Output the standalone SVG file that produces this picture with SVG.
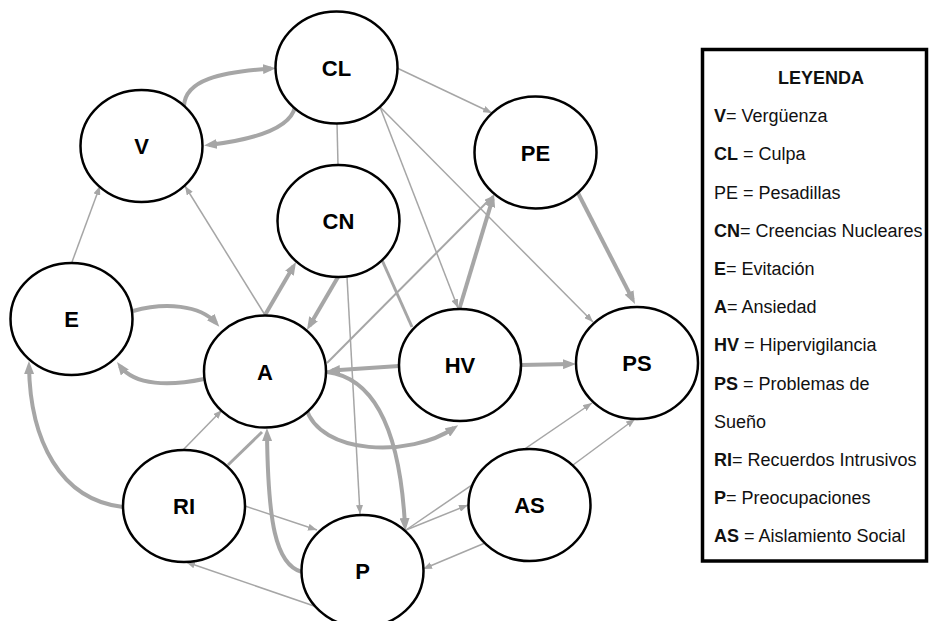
<svg xmlns="http://www.w3.org/2000/svg" width="929" height="621" viewBox="0 0 929 621">
  <defs>
    <style>
      .node ellipse { fill: #ffffff; stroke: #000000; stroke-width: 2.5; }
      .node text { font-family: "Liberation Sans", Arial, sans-serif; font-weight: bold; font-size: 22px; fill: #000000; text-anchor: middle; }
      .thin { fill: none; stroke: #a6a6a6; stroke-width: 1.5; }
      .mid { fill: none; stroke: #a6a6a6; stroke-width: 2; }
      .thick { fill: none; stroke: #a6a6a6; stroke-width: 4; }
      .legend rect { fill: #ffffff; stroke: #000000; stroke-width: 3.5; }
      .legend text { font-family: "Liberation Sans", Arial, sans-serif; font-size: 18px; fill: #111111; }
      .legend .b { font-weight: bold; }
    </style>
    <marker id="arrowThin" viewBox="0 0 9 7" refX="9" refY="3.5" markerWidth="9" markerHeight="7" markerUnits="userSpaceOnUse" orient="auto">
      <path d="M0,0 L9,3.5 L0,7 z" fill="#a6a6a6"/>
    </marker>
    <marker id="arrowThick" viewBox="0 0 13 10" refX="8" refY="5" markerWidth="13" markerHeight="10" markerUnits="userSpaceOnUse" orient="auto">
      <path d="M0,0 L13,5 L0,10 z" fill="#a6a6a6"/>
    </marker>
  </defs>

  <g id="connectors">
    <!-- thin links -->
    <line class="thin" x1="72" y1="262" x2="100" y2="186" marker-end="url(#arrowThin)"/>
    <line class="thin" x1="265" y1="315" x2="185" y2="186" marker-end="url(#arrowThin)"/>
    <line class="thin" x1="337" y1="123" x2="338" y2="165"/>
    <line class="thin" x1="347" y1="277" x2="360" y2="514" marker-end="url(#arrowThin)"/>
    <line class="thin" x1="397" y1="68" x2="492" y2="113" marker-end="url(#arrowThin)"/>
    <line class="thin" x1="380" y1="107" x2="593" y2="322" marker-end="url(#arrowThin)"/>
    <line class="thin" x1="380" y1="107" x2="458" y2="308" marker-end="url(#arrowThin)"/>
    <line class="thin" x1="183" y1="450" x2="222" y2="410" marker-end="url(#arrowThin)"/>
    <line class="thin" x1="245" y1="506" x2="317" y2="530" marker-end="url(#arrowThin)"/>
    <line class="thin" x1="317" y1="607" x2="186" y2="562" marker-end="url(#arrowThin)"/>
    <line class="thin" x1="406" y1="530" x2="468" y2="505" marker-end="url(#arrowThin)"/>
    <line class="thin" x1="406" y1="530" x2="592" y2="403" marker-end="url(#arrowThin)"/>
    <line class="thin" x1="573" y1="465" x2="635" y2="419" marker-end="url(#arrowThin)"/>
    <line class="thin" x1="485" y1="543" x2="423" y2="569" marker-end="url(#arrowThin)"/>
    <line class="mid" x1="327" y1="363" x2="493" y2="196" marker-end="url(#arrowThin)"/>

    <!-- thick links without heads -->
    <line class="thick" style="stroke-width:3" x1="382" y1="260" x2="412" y2="327"/>
    <line class="thick" style="stroke-width:3" x1="228" y1="465" x2="262" y2="432"/>

    <!-- thick straight links -->
    <line class="thick" x1="265" y1="315" x2="293.5" y2="266.3" marker-end="url(#arrowThick)"/>
    <line class="thick" x1="338" y1="277" x2="309.5" y2="325.7" marker-end="url(#arrowThick)"/>
    <line class="thick" x1="459" y1="310" x2="492.6" y2="198.8" marker-end="url(#arrowThick)"/>
    <line class="thick" x1="578" y1="193" x2="632.7" y2="299.6" marker-end="url(#arrowThick)"/>
    <line class="thick" x1="521" y1="365" x2="571" y2="364" marker-end="url(#arrowThick)"/>
    <line class="thick" x1="399" y1="366" x2="332" y2="370.6" marker-end="url(#arrowThick)"/>

    <!-- thick curved links -->
    <path class="thick" d="M184,106 C185,80 220,72 271,68.5" marker-end="url(#arrowThick)"/>
    <path class="thick" d="M295,107 C290,130 250,140 209,145" marker-end="url(#arrowThick)"/>
    <path class="thick" d="M133,311 C165,302 200,305 216,323" marker-end="url(#arrowThick)"/>
    <path class="thick" d="M204,379 C170,386 135,386 120,366" marker-end="url(#arrowThick)"/>
    <path class="thick" d="M123,507 C60,500 30,440 29,366" marker-end="url(#arrowThick)"/>
    <path class="thick" d="M302,572 C275,565 268,520 267,433" marker-end="url(#arrowThick)"/>
    <path class="thick" d="M327,372 C375,378 400,430 405,526" marker-end="url(#arrowThick)"/>
    <path class="thick" d="M306,408 C320,455 410,458 454,428" marker-end="url(#arrowThick)"/>
  </g>

  <g id="node-CL" class="node"><ellipse cx="336.5" cy="67.5" rx="61" ry="56"/><text x="336.5" y="75.5">CL</text></g>
  <g id="node-V" class="node"><ellipse cx="141.5" cy="146" rx="61" ry="56"/><text x="141.5" y="154">V</text></g>
  <g id="node-PE" class="node"><ellipse cx="535.5" cy="152.5" rx="61" ry="56"/><text x="535.5" y="160.5">PE</text></g>
  <g id="node-CN" class="node"><ellipse cx="338.5" cy="221" rx="61" ry="56"/><text x="338.5" y="229">CN</text></g>
  <g id="node-E" class="node"><ellipse cx="71.5" cy="319" rx="61" ry="56"/><text x="71.5" y="327">E</text></g>
  <g id="node-A" class="node"><ellipse cx="265" cy="371.5" rx="61" ry="56"/><text x="265" y="379.5">A</text></g>
  <g id="node-HV" class="node"><ellipse cx="460" cy="365" rx="61" ry="56"/><text x="460" y="373">HV</text></g>
  <g id="node-PS" class="node"><ellipse cx="637" cy="363" rx="61" ry="56"/><text x="637" y="371">PS</text></g>
  <g id="node-RI" class="node"><ellipse cx="184" cy="506" rx="61" ry="56"/><text x="184" y="514">RI</text></g>
  <g id="node-AS" class="node"><ellipse cx="529.5" cy="505" rx="61" ry="56"/><text x="529.5" y="513">AS</text></g>
  <g id="node-P" class="node"><ellipse cx="362.5" cy="571" rx="61" ry="56"/><text x="362.5" y="579">P</text></g>

  <g id="legend" class="legend">
    <rect x="702.5" y="49.5" width="224" height="511.5"/>
    <text class="b" x="821" y="84" text-anchor="middle">LEYENDA</text>
    <text x="714" y="122.2"><tspan class="b">V</tspan>= Vergüenza</text>
    <text x="714" y="160.4"><tspan class="b">CL</tspan> = Culpa</text>
    <text x="714" y="198.6">PE = Pesadillas</text>
    <text x="714" y="236.8"><tspan class="b">CN</tspan>= Creencias Nucleares</text>
    <text x="714" y="275"><tspan class="b">E</tspan>= Evitación</text>
    <text x="714" y="313.2"><tspan class="b">A</tspan>= Ansiedad</text>
    <text x="714" y="351.4"><tspan class="b">HV</tspan> = Hipervigilancia</text>
    <text x="714" y="389.6"><tspan class="b">PS</tspan> = Problemas de</text>
    <text x="714" y="427.8">Sueño</text>
    <text x="714" y="466"><tspan class="b">RI</tspan>= Recuerdos Intrusivos</text>
    <text x="714" y="504.2"><tspan class="b">P</tspan>= Preocupaciones</text>
    <text x="714" y="542.4"><tspan class="b">AS</tspan> = Aislamiento Social</text>
  </g>
</svg>
